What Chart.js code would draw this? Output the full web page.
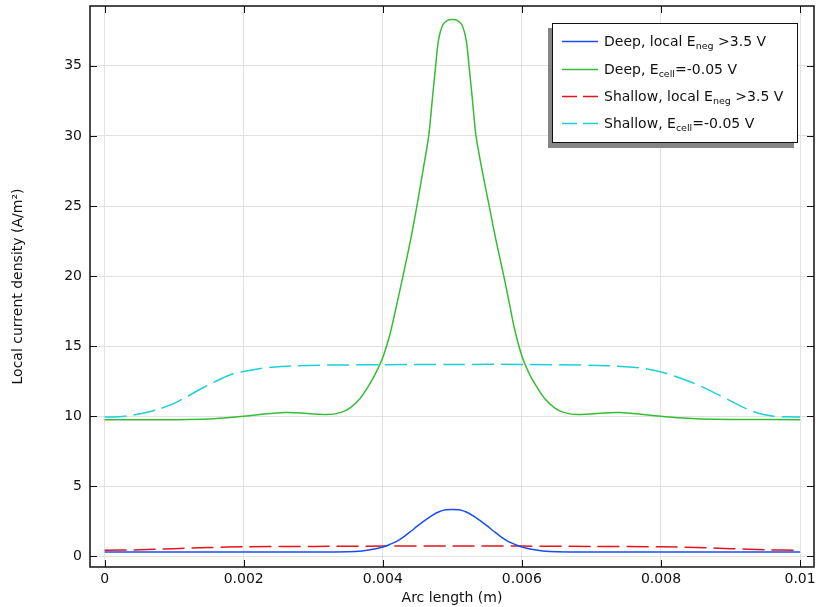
<!DOCTYPE html>
<html>
<head>
<meta charset="utf-8">
<script src="https://cdn.jsdelivr.net/npm/chart.js@4.4.1/dist/chart.umd.min.js"></script>
<style>
  body { margin: 0; background: #fff; font-family: 'DejaVu Sans', sans-serif; }
  #wrap { position: relative; width: 816px; height: 607px; }
  #legend {
    position: absolute; left: 552px; top: 23px; width: 244px; height: 118px;
    background: #fff; border: 1.5px solid #111; box-shadow: -4px 5px 0 #858585;
    font-size: 14px; color: #111;
  }
  #legend .row { position: absolute; left: 0; height: 20px; line-height: 20px; white-space: nowrap; }
  #legend svg { position: absolute; left: 9px; top: 9px; }
  #legend span.t { position: absolute; left: 51px; top: 0; }
  #legend sub { font-size: 9.5px; vertical-align: -3px; }
</style>
</head>
<body>
<div id="wrap">
  <canvas id="myChart" width="816" height="607"></canvas>
  <div id="legend"></div>
</div>
<script>
// x values (m) and current density (A/m^2)
const deepLocalX = [0, 0.002, 0.003, 0.0035, 0.0037, 0.0039, 0.004, 0.0041, 0.0042, 0.0043, 0.0044, 0.0045,
  0.0046, 0.0047, 0.0048, 0.0049, 0.005, 0.0051, 0.0052, 0.0053, 0.0054, 0.0055, 0.0056, 0.0057, 0.0058,
  0.0059, 0.006, 0.0061, 0.0063, 0.0065, 0.007, 0.008, 0.01];
const deepLocalY = [0.32, 0.32, 0.32, 0.34, 0.4, 0.55, 0.68, 0.86, 1.08, 1.4, 1.78, 2.18,
  2.56, 2.9, 3.17, 3.33, 3.36, 3.33, 3.17, 2.9, 2.56, 2.18, 1.78, 1.4, 1.08,
  0.86, 0.68, 0.55, 0.4, 0.34, 0.32, 0.32, 0.32];

const deepCellX = [0, 0.001, 0.0015, 0.002, 0.0026, 0.0032, 0.0034, 0.00353, 0.00367, 0.0038, 0.0039,
  0.004, 0.0041, 0.00417, 0.00429, 0.0044, 0.00449, 0.00458, 0.00466, 0.00471, 0.00476, 0.0048, 0.00486,
  0.00493, 0.005, 0.00507, 0.00514, 0.0052, 0.00524, 0.00529, 0.00534, 0.00543, 0.00553, 0.00563, 0.00574,
  0.00583, 0.0059, 0.006, 0.0061, 0.0062, 0.00633, 0.00647, 0.0066, 0.0068, 0.0074, 0.008, 0.0086, 0.01];
const deepCellY = [9.76, 9.76, 9.8, 10.0, 10.27, 10.12, 10.28, 10.6, 11.25, 12.2, 13.1,
  14.2, 15.8, 17.3, 20, 22.6, 25, 27.6, 30, 32.5, 35, 36.8, 37.9,
  38.25, 38.3, 38.25, 37.9, 36.8, 35, 32.5, 30, 27.5, 25, 22.5, 20,
  17.8, 16.1, 14.3, 13.1, 12.2, 11.25, 10.6, 10.28, 10.12, 10.27, 10.0, 9.81, 9.76];

const shallowLocalX = [0, 0.0005, 0.001, 0.0015, 0.002, 0.003, 0.004, 0.005, 0.006, 0.007, 0.008, 0.0085, 0.009, 0.0095, 0.01];
const shallowLocalY = [0.44, 0.48, 0.56, 0.64, 0.69, 0.72, 0.74, 0.74, 0.74, 0.72, 0.69, 0.64, 0.56, 0.48, 0.44];

const shallowCellX = [0, 0.0002, 0.0004, 0.0006, 0.0008, 0.001, 0.0012, 0.0014, 0.0016, 0.0018, 0.002, 0.0022,
  0.0024, 0.0029, 0.004, 0.005, 0.006, 0.0071, 0.0076, 0.0078, 0.008, 0.0082, 0.0084, 0.0086, 0.0088,
  0.009, 0.0092, 0.0094, 0.0096, 0.0098, 0.01];
const shallowCellY = [9.95, 9.97, 10.08, 10.27, 10.55, 10.92, 11.45, 12.0, 12.5, 12.95, 13.2, 13.38,
  13.5, 13.63, 13.68, 13.7, 13.7, 13.63, 13.5, 13.38, 13.16, 12.86, 12.5, 12.08, 11.6,
  11.1, 10.6, 10.22, 10.03, 9.96, 9.95];

const xTicks = [0, 0.002, 0.004, 0.006, 0.008, 0.01];
const yTicks = [0, 5, 10, 15, 20, 25, 30, 35];

const seriesNames = [
  'Deep, local E<sub>neg</sub> &gt;3.5 V',
  'Deep, E<sub>cell</sub>=-0.05 V',
  'Shallow, local E<sub>neg</sub> &gt;3.5 V',
  'Shallow, E<sub>cell</sub>=-0.05 V'
];
const seriesColors = ['#1a4cf5', '#35bd35', '#e51515', '#1cd0d6'];
const seriesDashed = [false, false, true, true];

const pts = (xs, ys) => xs.map((x, i) => ({ x: x, y: ys[i] }));
const allX = [deepLocalX, deepCellX, shallowLocalX, shallowCellX];
const allY = [deepLocalY, deepCellY, shallowLocalY, shallowCellY];

const FONT = 'DejaVu Sans';

// frame + inward tick marks on all four sides
const framePlugin = {
  id: 'frame',
  afterDatasetsDraw(chart) {
    const { ctx, chartArea: a, scales } = chart;
    ctx.save();
    ctx.strokeStyle = '#111';
    ctx.lineWidth = 1;
    ctx.beginPath();
    xTicks.forEach(v => {
      const px = Math.round(scales.x.getPixelForValue(v)) + 0.5;
      ctx.moveTo(px, a.bottom); ctx.lineTo(px, a.bottom - 7);
      ctx.moveTo(px, a.top); ctx.lineTo(px, a.top + 7);
    });
    yTicks.forEach(v => {
      const py = Math.round(scales.y.getPixelForValue(v)) + 0.5;
      ctx.moveTo(a.left, py); ctx.lineTo(a.left + 7, py);
      ctx.moveTo(a.right, py); ctx.lineTo(a.right - 7, py);
    });
    ctx.stroke();
    ctx.lineWidth = 1.5;
    ctx.strokeRect(a.left, a.top, a.right - a.left, a.bottom - a.top);
    ctx.restore();
  }
};

const chart = new Chart(document.getElementById('myChart').getContext('2d'), {
  type: 'line',
  data: {
    datasets: seriesNames.map((name, i) => ({
      label: name,
      data: pts(allX[i], allY[i]),
      borderColor: seriesColors[i],
      borderWidth: 1.5,
      borderDash: seriesDashed[i] ? [22, 7] : [],
      pointRadius: 0,
      fill: false,
      tension: 0.3
    }))
  },
  options: {
    responsive: false,
    animation: false,
    devicePixelRatio: 1,
    layout: { padding: { top: 6, right: 2, left: 0, bottom: 0 } },
    plugins: { legend: { display: false }, tooltip: { enabled: false } },
    scales: {
      x: {
        type: 'linear',
        min: -0.00021,
        max: 0.0102,
        afterBuildTicks: s => { s.ticks = xTicks.map(v => ({ value: v })); },
        afterFit: s => { s.height = 40; s.paddingLeft = 0; s.paddingRight = 0; },
        ticks: {
          font: { family: FONT, size: 14 },
          color: '#111',
          padding: 4,
          maxRotation: 0,
          callback: v => String(v)
        },
        grid: { color: '#e2e2e2', lineWidth: 1, drawTicks: false },
        border: { display: false },
        title: {
          display: true,
          text: 'Arc length (m)',
          font: { family: FONT, size: 14 },
          color: '#111',
          padding: { top: 0, bottom: 0 }
        }
      },
      y: {
        type: 'linear',
        min: -0.75,
        max: 39.27,
        afterBuildTicks: s => { s.ticks = yTicks.map(v => ({ value: v })); },
        afterFit: s => { s.width = 90; s.paddingTop = 0; s.paddingBottom = 0; },
        ticks: {
          font: { family: FONT, size: 14 },
          color: '#111',
          padding: 8,
          callback: v => String(v)
        },
        grid: { color: '#e2e2e2', lineWidth: 1, drawTicks: false },
        border: { display: false },
        title: {
          display: true,
          text: 'Local current density (A/m\u00B2)',
          font: { family: FONT, size: 14 },
          color: '#111',
          padding: { top: 10, bottom: 0 }
        }
      }
    }
  },
  plugins: [framePlugin]
});

// legend built from the datasets
const legend = document.getElementById('legend');
const rowTops = [7, 35, 62, 89];
chart.data.datasets.forEach((ds, i) => {
  const row = document.createElement('div');
  row.className = 'row';
  row.style.top = rowTops[i] + 'px';
  const dash = seriesDashed[i] ? 'stroke-dasharray="15 6"' : '';
  row.innerHTML =
    '<svg width="36" height="3"><line x1="0" y1="1.5" x2="36" y2="1.5" stroke="' + ds.borderColor +
    '" stroke-width="1.5" ' + dash + '/></svg><span class="t">' + ds.label + '</span>';
  legend.appendChild(row);
});
</script>
</body>
</html>
